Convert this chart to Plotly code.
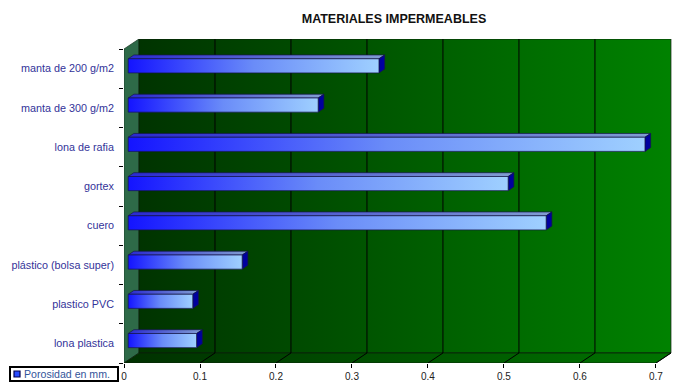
import plotly.graph_objects as go

# Data (bottom to top as drawn on the value axis)
materials = [
    "lona plastica",
    "plastico PVC",
    "plástico (bolsa super)",
    "cuero",
    "gortex",
    "lona de rafia",
    "manta de 300 g/m2",
    "manta de 200 g/m2",
]
porosity_mm = [0.09, 0.085, 0.15, 0.55, 0.50, 0.68, 0.25, 0.33]
x_ticks = [0, 0.1, 0.2, 0.3, 0.4, 0.5, 0.6, 0.7]
x_tick_labels = ["0", "0.1", "0.2", "0.3", "0.4", "0.5", "0.6", "0.7"]
series_name = "Porosidad en mm."
chart_title = "MATERIALES IMPERMEABLES"

# Geometry of the pseudo-3D box (in axis units)
X_MAX = 0.7
DX = 0.0197          # horizontal depth offset of the back wall
DY = 0.255           # vertical depth offset of the back wall
N = len(materials)
Y_TOP = N + DY
X_RANGE_MAX = X_MAX + DX + 0.0014
F1, F2 = 0.28, 0.66  # depth fractions of bar front / back faces
H = 0.18             # half thickness of a bar

W, HT = 684, 386
ML, MR, MT, MB = 124, 12, 39, 23
PW, PH = W - ML - MR, HT - MT - MB


def shift(x, y, f):
    return x + f * DX, y + f * DY


def px_to_paper(px, py):
    return (px - ML) / PW, (HT - MB - py) / PH


fig = go.Figure()

# Left side wall
fig.add_trace(go.Scatter(x=[0, DX, DX, 0, 0], y=[0, DY, Y_TOP, N, 0],
                         fill="toself", mode="lines",
                         fillcolor="#2e6a48", line=dict(color="#1d3d2a", width=0.8),
                         hoverinfo="skip", showlegend=False))

# Back wall with a dark-to-bright green gradient
fig.add_trace(go.Scatter(x=[DX, X_MAX + DX, X_MAX + DX, DX, DX],
                         y=[DY, DY, Y_TOP, Y_TOP, DY],
                         fill="toself", mode="lines",
                         fillgradient=dict(type="horizontal",
                                           colorscale=[[0, "#003300"], [1, "#008200"]]),
                         line=dict(color="#0a200a", width=0.8),
                         hoverinfo="skip", showlegend=False))

# Floor
fig.add_trace(go.Scatter(x=[0, X_MAX, X_MAX + DX, DX, 0],
                         y=[0, 0, DY, DY, 0],
                         fill="toself", mode="lines",
                         fillgradient=dict(type="horizontal",
                                           colorscale=[[0, "#003000"], [1, "#007400"]]),
                         line=dict(color="#0a200a", width=0.8),
                         hoverinfo="skip", showlegend=False))

# Gridlines on the back wall and floor
gx, gy = [], []
for v in x_ticks[1:-1]:
    gx += [v, v + DX, v + DX, None]
    gy += [0, DY, Y_TOP, None]
gx += [X_MAX, X_MAX + DX, None]
gy += [0, DY, None]
fig.add_trace(go.Scatter(x=gx, y=gy, mode="lines",
                         line=dict(color="#000000", width=1),
                         hoverinfo="skip", showlegend=False))

# Bars: top face, end cap, then gradient front face
edge = dict(color="#15154a", width=0.7)
for i, v in enumerate(porosity_mm):
    yc = i + 0.5
    lo, hi = yc - H, yc + H
    ax0, ay0 = shift(0, hi, F1)
    ax1, ay1 = shift(v, hi, F1)
    bx1, by1 = shift(v, hi, F2)
    bx0, by0 = shift(0, hi, F2)
    fig.add_trace(go.Scatter(x=[ax0, ax1, bx1, bx0, ax0], y=[ay0, ay1, by1, by0, ay0],
                             fill="toself", mode="lines", line=edge,
                             fillgradient=dict(type="horizontal",
                                               colorscale=[[0, "#2a2ad0"], [1, "#819dd2"]]),
                             hoverinfo="skip", showlegend=False))
    cx0, cy0 = shift(v, lo, F1)
    cx1, cy1 = shift(v, lo, F2)
    cx2, cy2 = shift(v, hi, F2)
    cx3, cy3 = shift(v, hi, F1)
    fig.add_trace(go.Scatter(x=[cx0, cx1, cx2, cx3, cx0], y=[cy0, cy1, cy2, cy3, cy0],
                             fill="toself", mode="lines", line=edge,
                             fillcolor="#00009e",
                             hoverinfo="skip", showlegend=False))
    fx0, fy0 = shift(0, lo, F1)
    fx1, fy1 = shift(v, lo, F1)
    fx2, fy2 = shift(v, hi, F1)
    fx3, fy3 = shift(0, hi, F1)
    fig.add_trace(go.Scatter(x=[fx0, fx1, fx2, fx3, fx0], y=[fy0, fy1, fy2, fy3, fy0],
                             fill="toself", mode="lines", line=edge,
                             name=materials[i],
                             fillgradient=dict(type="horizontal",
                                               colorscale=[[0, "#1414ff"], [0.5, "#6a8cf8"],
                                                           [1, "#9fd0ff"]]),
                             hoverinfo="skip", showlegend=False))

# Category labels on an overlaid axis
fig.add_trace(go.Scatter(x=[None], y=[None], yaxis="y2", mode="markers",
                         hoverinfo="skip", showlegend=False))

# Legend box below the category labels
bx0, by0 = px_to_paper(10, 367)
bx1, by1 = px_to_paper(118, 381)
kx0, ky0 = px_to_paper(14, 371)
kx1, ky1 = px_to_paper(20, 377)
tx, ty = px_to_paper(21.5, 374)
shapes = [
    dict(type="rect", xref="paper", yref="paper", x0=bx0, y0=by0, x1=bx1, y1=by1,
         line=dict(color="#000000", width=2), fillcolor="white", layer="above"),
    dict(type="rect", xref="paper", yref="paper", x0=kx0, y0=ky0, x1=kx1, y1=ky1,
         line=dict(color="#000050", width=1.2), fillcolor="#2a4cff", layer="above"),
]
annotations = [
    dict(text=series_name, xref="paper", yref="paper", x=tx, y=ty,
         xanchor="left", yanchor="middle", showarrow=False,
         font=dict(size=10.6, color="#33549a")),
]

fig.update_layout(
    width=W, height=HT,
    margin=dict(l=ML, r=MR, t=MT, b=MB, autoexpand=False),
    paper_bgcolor="white", plot_bgcolor="white",
    font=dict(family="Liberation Sans, Arial, sans-serif", size=10, color="#222222"),
    title=dict(text="<b>" + chart_title + "</b>", x=0.576, xanchor="center",
               y=0.953, yanchor="middle",
               font=dict(size=12.5, color="#111111")),
    xaxis=dict(range=[0, X_RANGE_MAX], tickvals=x_ticks, ticktext=x_tick_labels,
               ticks="outside", ticklen=4, tickcolor="#000000", tickwidth=1,
               showgrid=False, zeroline=False, showline=False, fixedrange=True,
               tickfont=dict(size=10, color="#222222")),
    yaxis=dict(range=[0, Y_TOP], tickvals=list(range(N + 1)),
               ticks="outside", ticklen=4, tickcolor="#000000", tickwidth=1,
               showticklabels=False, showgrid=False, zeroline=False, showline=False,
               fixedrange=True),
    yaxis2=dict(range=[0, Y_TOP], overlaying="y", side="left",
                tickvals=[i + 0.5 for i in range(N)], ticktext=materials,
                ticks="", ticklabelstandoff=9, showgrid=False, zeroline=False,
                showline=False, fixedrange=True,
                tickfont=dict(size=10.8, color="#333399")),
    shapes=shapes,
    annotations=annotations,
    showlegend=False,
)

fig.write_html("out.html")
